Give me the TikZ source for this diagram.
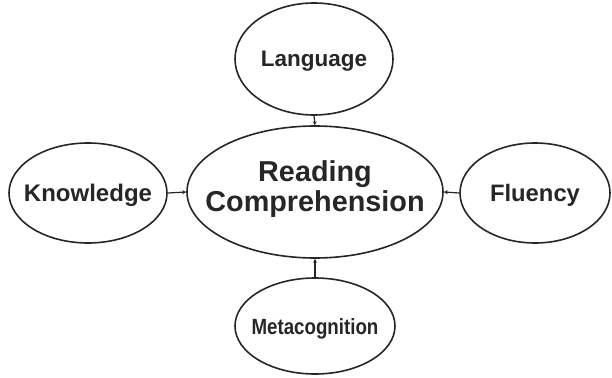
\documentclass[tikz,border=0pt]{standalone}
\usepackage{fontspec}
\setmainfont{Liberation Sans}
\newfontfamily\condfont[FakeStretch=0.85]{Liberation Sans}
\usetikzlibrary{shapes.geometric,arrows.meta}

% text sits in a zero-width box so the ellipse keeps the given size
\newcommand{\lbl}[1]{\makebox[0pt]{#1}}

\begin{document}
\begin{tikzpicture}[x=1pt,y=-1pt,
   every node/.style={draw=black!85,text=black!85,ellipse,line width=1.6pt,inner sep=0pt,
      text height=16pt,text depth=0pt},
   feeds/.style={draw=black!85,line width=1.2pt,-{Stealth[length=4pt,width=4pt]}}]

\useasboundingbox (0,0) rectangle (612,377);

\node[minimum width=256pt,minimum height=132pt,align=center,text height=,text depth=12pt,
      font=\bfseries\fontsize{28.8}{29.5}\selectfont] (rc) at (315,192)
      {\lbl{Reading}\\\lbl{Comprehension}};

\node[minimum width=158pt,minimum height=112pt,font=\bfseries\fontsize{22.5}{26}\selectfont]
      (lang) at (314,59) {\lbl{Language}};
\node[minimum width=158pt,minimum height=100pt,font=\bfseries\fontsize{24}{26}\selectfont]
      (know) at (88,193) {\lbl{Knowledge}};
\node[minimum width=150pt,minimum height=100pt,font=\bfseries\fontsize{23.8}{26}\selectfont]
      (flu) at (535,193) {\lbl{Fluency}};
\node[minimum width=160pt,minimum height=96pt,
      font=\condfont\bfseries\fontsize{22}{24}\selectfont] (meta) at (315,326) {\lbl{Metacognition}};

\draw[feeds] (lang.south) -- (rc.north);
\draw[feeds] (know.east) -- (rc.west);
\draw[feeds] (flu.west) -- (rc.east);
\draw[feeds] (meta.north) -- (rc.south);

\end{tikzpicture}
\end{document}
